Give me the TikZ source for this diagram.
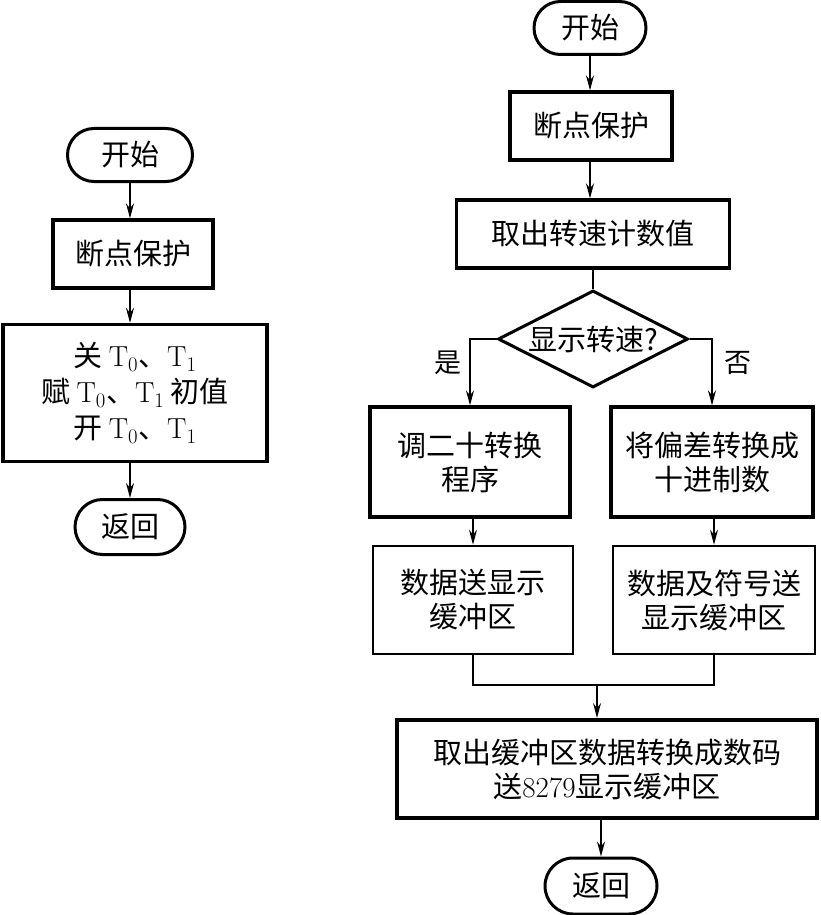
\documentclass[tikz,border=0pt]{standalone}
\usepackage{fontspec}
\newfontfamily\cjk{Noto Sans CJK SC}
\usetikzlibrary{arrows.meta,shapes.misc,shapes.geometric}
\begin{document}
\begin{tikzpicture}[x=1pt,y=-1pt,
  txt/.style={font=\cjk\fontsize{29}{34}\selectfont, align=center, inner sep=0pt},
  term/.style={txt, draw, rounded rectangle, line width=3pt},
  box/.style={txt, draw, rectangle, line width=3.3pt},
  thinbox/.style={txt, draw, rectangle, line width=2.6pt},
  dec/.style={txt, draw, diamond, aspect=2, line width=3pt},
  arr/.style={line width=1.5pt, -{Stealth[length=15pt,width=8pt,inset=5pt]}},
  ln/.style={line width=1.5pt},
  lab/.style={font=\cjk\fontsize{27}{30}\selectfont, inner sep=0pt}]
\useasboundingbox (0,0) rectangle (820,915);
% ---- left flowchart ----
\node[term, minimum width=125pt, minimum height=53pt] (ls) at (130,155) {开始};
\node[box, minimum width=160pt, minimum height=68pt] (lp) at (133,254) {断点保护};
\node[box, minimum width=264pt, minimum height=137pt, font=\cjk\fontsize{29}{36}\selectfont] (lt) at (135,393)
  {关 $\mathrm{T}_0$、$\mathrm{T}_1$\\赋 $\mathrm{T}_0$、$\mathrm{T}_1$ 初值\\开 $\mathrm{T}_0$、$\mathrm{T}_1$};
\node[term, minimum width=110pt, minimum height=55pt] (lr) at (130,527) {返回};
\draw[arr] (ls.south) -- (ls.south |- lp.north);
\draw[arr] (lp.south -| ls.south) -- (ls.south |- lt.north);
\draw[arr] (lt.south -| ls.south) -- (ls.south |- lr.north);
% ---- right flowchart ----
\node[term, minimum width=112pt, minimum height=53pt] (rs) at (590,28) {开始};
\node[box, minimum width=162pt, minimum height=68pt] (rp) at (591,126) {断点保护};
\node[box, minimum width=273pt, minimum height=68pt] (rc) at (593,234) {取出转速计数值};
\node[dec, minimum width=190pt, minimum height=97pt] (d) at (593,339) {显示转速?};
\node[box, minimum width=200pt, minimum height=110pt] (l1) at (470,462) {调二十转换\\程序};
\node[box, minimum width=202pt, minimum height=110pt] (r1) at (712,462) {将偏差转换成\\十进制数};
\node[thinbox, minimum width=200pt, minimum height=108pt] (l2) at (473,600) {数据送显示\\缓冲区};
\node[thinbox, minimum width=202pt, minimum height=108pt] (r2) at (714,600) {数据及符号送\\显示缓冲区};
\node[box, line width=4pt, minimum width=420pt, minimum height=98pt] (bb) at (607,769) {取出缓冲区数据转换成数码\\送{\rmfamily 8279}显示缓冲区};
\node[term, minimum width=112pt, minimum height=56pt] (rr) at (601,886) {返回};
\draw[arr] (rs.south) -- (rs.south |- rp.north);
\draw[arr] (rp.south -| rs.south) -- (rs.south |- rc.north);
\draw[ln] (rc.south) -- (d.north);
\draw[arr] (d.west) -| (l1.north) node[lab, pos=0.68, left=8pt] {是};
\draw[arr] (d.east) -| (r1.north) node[lab, pos=0.68, right=12pt] {否};
\draw[arr] (l1.south -| l2.north) -- (l2.north);
\draw[arr] (r1.south -| r2.north) -- (r2.north);
\coordinate (m) at (597,685);
\draw[ln] (l2.south) -- (l2.south |- m) -- (r2.south |- m) -- (r2.south);
\draw[arr] (m) -- (m |- bb.north);
\draw[arr] (bb.south -| rr.north) -- (rr.north);
\end{tikzpicture}
\end{document}
